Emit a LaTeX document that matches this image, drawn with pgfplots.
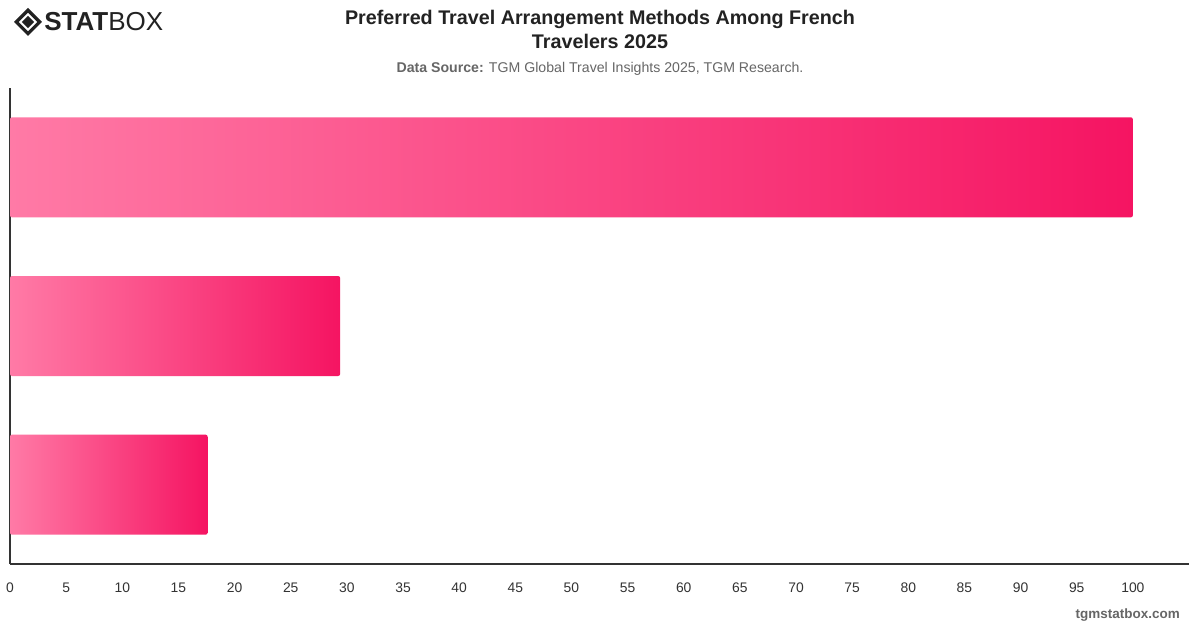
\documentclass[border=0pt]{standalone}
\usepackage{pgfplots}
\pgfplotsset{compat=1.18}
\usepackage{fontspec}
\setmainfont{Liberation Sans}
\definecolor{barL}{HTML}{FF7AA6}
\definecolor{barR}{HTML}{F51462}
\definecolor{titlec}{HTML}{222222}
\definecolor{subc}{HTML}{666666}
\definecolor{tickc}{HTML}{333333}
\begin{document}
\begin{tikzpicture}
\path[fill=white] (0pt,0pt) rectangle (900pt,471pt);
% title
\node[font=\fontsize{14.8}{18}\selectfont\bfseries, text=titlec, align=center] at (450pt,449pt) {Preferred Travel Arrangement Methods Among French\\Travelers 2025};
\node[font=\fontsize{10.6}{12}\selectfont, text=subc] at (450pt,419pt) {\textbf{Data Source:} TGM Global Travel Insights 2025, TGM Research.};
% logo
\begin{scope}[shift={(21pt,454.5pt)}]
\draw[line width=2.4pt, titlec] (0pt,-8.8pt) -- (8.8pt,0pt) -- (0pt,8.8pt) -- (-8.8pt,0pt) -- cycle;
\fill[titlec] (0pt,-4.6pt) -- (4.6pt,0pt) -- (0pt,4.6pt) -- (-4.6pt,0pt) -- cycle;
\end{scope}
\node[anchor=west, font=\fontsize{19.5}{20}\selectfont, text=titlec, inner sep=0pt] at (33pt,454.5pt) {\textbf{STAT}BOX};
\node[anchor=east, font=\fontsize{10.1}{11}\selectfont\bfseries, text=subc, inner sep=0pt] at (885pt,9.75pt) {tgmstatbox.com};
\begin{axis}[
  at={(7.5pt,48pt)}, anchor=south west,
  scale only axis, width=884.25pt, height=357pt,
  xmin=0, xmax=105, ymin=-0.5, ymax=2.5,
  y dir=reverse,
  axis lines*=left,
  axis line style={draw=tickc, line width=0.8pt},
  xtick={0,5,...,100},
  ytick=\empty,
  major tick length=0pt,
  xticklabel style={font=\fontsize{10.4}{11}\selectfont, text=tickc, text height=7.5pt, text depth=0pt, yshift=-10.5pt},
  /pgf/number format/assume math mode=true,
  clip=false,
  every axis plot/.append style={xbar, bar width=75pt, bar shift=0pt, draw=none, rounded corners=1.5pt},
]
\addplot[left color=barL, right color=barR] coordinates {(100,0)};
\addplot[left color=barL, right color=barR] coordinates {(29.4,1)};
\addplot[left color=barL, right color=barR] coordinates {(17.6,2)};
\end{axis}
\end{tikzpicture}
\end{document}
